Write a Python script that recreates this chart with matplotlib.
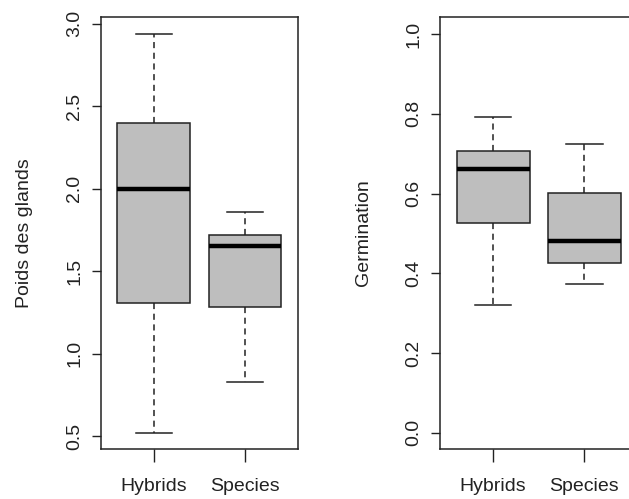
import matplotlib
matplotlib.use("Agg")
import matplotlib.pyplot as plt

plt.rcParams['font.family'] = ['Liberation Sans', 'DejaVu Sans']

groups = ["Hybrids", "Species"]

# acorn weight (Poids des glands)
poids_whislo = [0.52, 0.827]
poids_q1 = [1.309, 1.281]
poids_med = [2.0, 1.653]
poids_q3 = [2.401, 1.721]
poids_whishi = [2.941, 1.861]

# germination rate
germ_whislo = [0.320, 0.373]
germ_q1 = [0.525, 0.426]
germ_med = [0.661, 0.482]
germ_q3 = [0.708, 0.601]
germ_whishi = [0.791, 0.724]


def make_stats(lo, q1, med, q3, hi):
    return [dict(label=g, whislo=lo[i], q1=q1[i], med=med[i], q3=q3[i], whishi=hi[i], fliers=[])
            for i, g in enumerate(groups)]


def r_boxplot(ax, stats, ylim, yticks, ylabel, label_x):
    ax.bxp(stats, positions=[1, 2], widths=0.8, patch_artist=True, showfliers=False,
           boxprops=dict(facecolor='#bebebe', edgecolor='#222222', linewidth=1.1),
           medianprops=dict(color='black', linewidth=3.2, solid_capstyle='butt'),
           whiskerprops=dict(color='#222222', linewidth=1.1, linestyle=(0, (4, 3))),
           capprops=dict(color='#222222', linewidth=1.1), capwidths=0.4)
    ax.set_xlim(0.42, 2.58)
    ax.set_ylim(*ylim)
    ax.set_yticks(yticks)
    ax.set_yticklabels([f"{t:.1f}" for t in yticks], rotation=90, va='center')
    ax.set_xticks([1, 2])
    ax.set_xticklabels(groups)
    ax.tick_params(axis='y', length=6.7, width=1, color='#222222', pad=6, labelsize=14, labelcolor='#222222')
    ax.tick_params(axis='x', length=9, width=1, color='#222222', pad=12, labelsize=14, labelcolor='#222222')
    for s in ax.spines.values():
        s.set_linewidth(1.1)
        s.set_color('#222222')
    ax.set_ylabel(ylabel, fontsize=14, color='#222222', va='center')
    ax.yaxis.set_label_coords(label_x, 0.5)


fig = plt.figure(figsize=(6.29, 4.99), dpi=100)
ax1 = fig.add_axes([0.1606, 0.100, 0.313, 0.866])
ax2 = fig.add_axes([0.700, 0.100, 0.313, 0.866])

r_boxplot(ax1, make_stats(poids_whislo, poids_q1, poids_med, poids_q3, poids_whishi),
          (0.421, 3.042), [0.5, 1.0, 1.5, 2.0, 2.5, 3.0], "Poids des glands", -0.39)
r_boxplot(ax2, make_stats(germ_whislo, germ_q1, germ_med, germ_q3, germ_whishi),
          (-0.041, 1.043), [0.0, 0.2, 0.4, 0.6, 0.8, 1.0], "Germination", -0.39)

fig.savefig("out.png", dpi=100)
